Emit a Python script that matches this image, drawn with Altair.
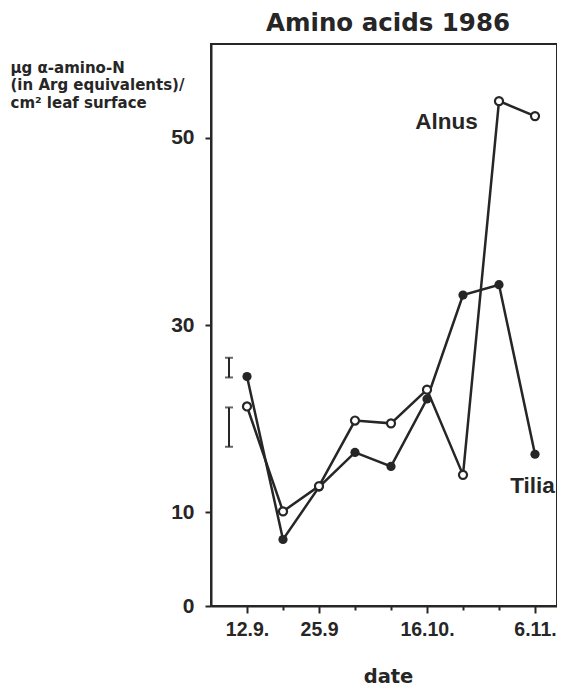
import altair as alt
import pandas as pd

C = "#262626"
FONT = "DejaVu Sans"
FONT2 = "Liberation Sans"

# data (x = sampling index, evenly spaced sampling dates)
idx = list(range(9))
alnus = [21.3, 10.1, 12.8, 19.8, 19.5, 23.1, 14.0, 53.9, 52.3]
tilia = [24.5, 7.1, 12.7, 16.4, 14.9, 22.1, 33.2, 34.3, 16.2]

tick_idx = [0, 2, 5, 8]
tick_labels = ["12.9.", "25.9", "16.10.", "6.11."]
y_ticks = [0, 10, 30, 50]

err_x = [-0.5, -0.5]
err_lo = [24.4, 17.0]
err_hi = [26.5, 21.2]

lab_text = ["Alnus", "Tilia"]
lab_x = [5.54, 7.93]
lab_y = [50.9, 12.06]

df = pd.DataFrame({"i": idx * 2, "v": alnus + tilia,
                   "s": ["Alnus"] * 9 + ["Tilia"] * 9})
df_err = pd.DataFrame({"i": err_x, "lo": err_lo, "hi": err_hi})
df_lab = pd.DataFrame({"t": lab_text, "i": lab_x, "v": lab_y})

expr = ""
for k, lab in zip(tick_idx, tick_labels):
    expr += f"datum.value == {k} ? '{lab}' : "
expr += "''"
major_test = "indexof([" + ",".join(str(k) for k in tick_idx) + "], datum.value) >= 0"

W = 346
xs = alt.Scale(domain=[-1, W / 36 - 1], nice=False, zero=False)
ys = alt.Scale(domain=[0, 60], nice=False)

x = alt.X("i:Q", scale=xs, axis=alt.Axis(
    values=idx, labelExpr=expr, title="date",
    tickSize={"condition": {"test": major_test, "value": 7}, "value": 4},
    labelPadding=7, labelFont=FONT2, labelFontSize=19.5,
    titleFontSize=19.5, titleBaseline="alphabetic", titleY=76, titleX=177,
    labelFlush=False, labelOverlap=False))
y = alt.Y("v:Q", scale=ys, axis=alt.Axis(
    values=y_ticks, tickSize=6, labelPadding=11, labelFont=FONT2,
    labelFontSize=21,
    title=["µg α-amino-N", "(in Arg equivalents)/", "cm² leaf surface"],
    titleAngle=0, titleAlign="left", titleBaseline="alphabetic",
    titleX=-201, titleY=28, titleFontSize=15, titleLineHeight=17.5))

lines = alt.Chart(df).mark_line(color=C, strokeWidth=2.5).encode(
    x=x, y=y, detail="s:N")
pts_t = alt.Chart(df).transform_filter("datum.s == 'Tilia'").mark_point(
    filled=True, color=C, size=85, opacity=1).encode(x=x, y=y)
pts_a = alt.Chart(df).transform_filter("datum.s == 'Alnus'").mark_point(
    filled=True, fill="white", stroke=C, strokeWidth=2.2, size=65,
    opacity=1).encode(x=x, y=y)

err = alt.Chart(df_err).mark_rule(color=C, strokeWidth=2).encode(
    x=x, y=alt.Y("lo:Q", scale=ys), y2="hi:Q")
cap_lo = alt.Chart(df_err).mark_tick(color=C, orient="horizontal", size=8,
                                     thickness=2).encode(
    x=x, y=alt.Y("lo:Q", scale=ys))
cap_hi = alt.Chart(df_err).mark_tick(color=C, orient="horizontal", size=8,
                                     thickness=2).encode(
    x=x, y=alt.Y("hi:Q", scale=ys))

labels = alt.Chart(df_lab).mark_text(
    font=FONT2, fontWeight="bold", fontSize=22.5, color=C,
    align="center", baseline="alphabetic").encode(
    x=x, y=y, text="t:N")

chart = alt.layer(lines, err, cap_lo, cap_hi, pts_t, pts_a, labels).properties(
    width=W, height=562, autosize="none",
    padding={"left": 203, "top": 36, "right": 0, "bottom": 83},
    title=alt.TitleParams("Amino acids 1986", font=FONT, fontWeight="bold",
                          fontSize=24.5, color=C, anchor="middle", offset=8,
                          dx=4),
).configure_axis(
    grid=False, domainColor=C, domainWidth=2, tickColor=C, tickWidth=2,
    labelFontWeight="bold", labelColor=C,
    titleFont=FONT, titleFontWeight="bold", titleColor=C,
).configure_view(stroke=C, strokeWidth=2)

chart.save("out.html", embed_options={"renderer": "svg", "actions": False})
